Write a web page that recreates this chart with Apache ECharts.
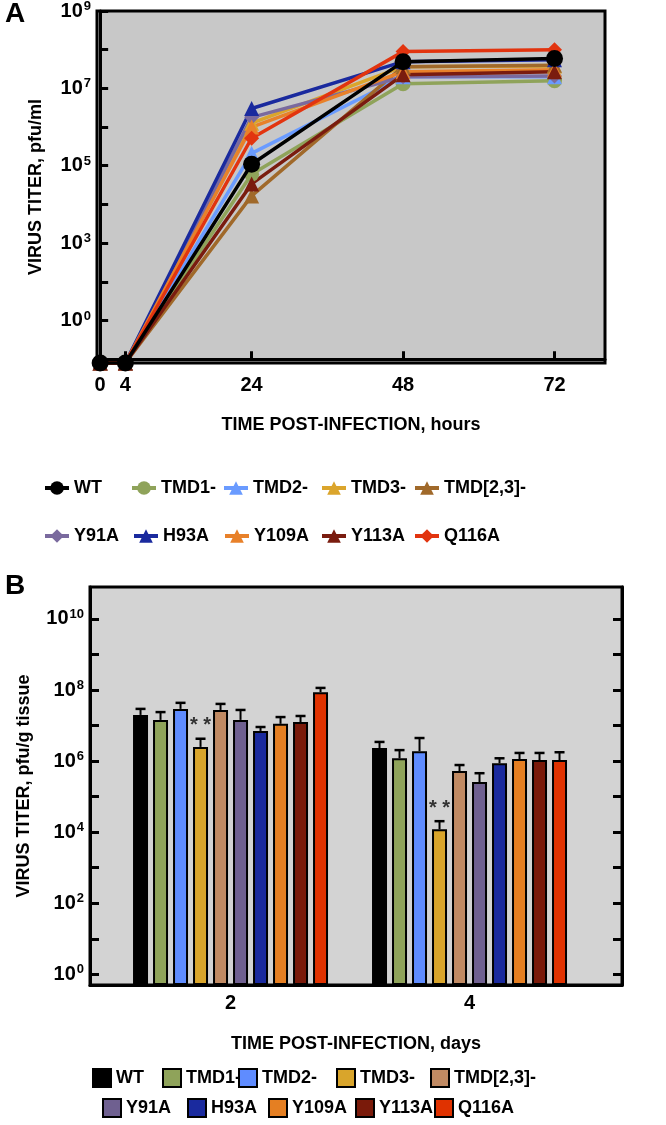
<!DOCTYPE html>
<html><head><meta charset="utf-8">
<script src="https://cdn.jsdelivr.net/npm/echarts@6/dist/echarts.min.js"></script>
<style>html,body{margin:0;padding:0;background:#fff}#c{width:666px;height:1125px}</style>
</head><body><div id="c"></div>
<script>
// ---------- shared ----------
const seriesNames = ['WT', 'TMD1-', 'TMD2-', 'TMD3-', 'TMD[2,3]-', 'Y91A', 'H93A', 'Y109A', 'Y113A', 'Q116A'];

// ---------- Panel A: growth curves (log10 pfu/ml; -0.1 = at axis floor) ----------
const hoursA = [0, 4, 24, 48, 72];
const hourTickLabels = ['0', '4', '24', '48', '72'];
const yTickPosA = [9, 7, 5, 3, 1];
const yTickExpA = ['9', '7', '5', '3', '0'];
const logA_WT    = [-0.1, -0.1, 5.04, 7.69, 7.77];
const logA_TMD1  = [-0.1, -0.1, 4.78, 7.12, 7.20];
const logA_TMD2  = [-0.1, -0.1, 5.32, 7.30, 7.30];
const logA_TMD3  = [-0.1, -0.1, 6.10, 7.56, 7.58];
const logA_TMD23 = [-0.1, -0.1, 4.22, 7.56, 7.60];
const logA_Y91A  = [-0.1, -0.1, 6.25, 7.30, 7.32];
const logA_H93A  = [-0.1, -0.1, 6.48, 7.69, 7.74];
const logA_Y109A = [-0.1, -0.1, 6.00, 7.43, 7.48];
const logA_Y113A = [-0.1, -0.1, 4.53, 7.35, 7.43];
const logA_Q116A = [-0.1, -0.1, 5.71, 7.95, 8.00];
const logA = [logA_WT, logA_TMD1, logA_TMD2, logA_TMD3, logA_TMD23, logA_Y91A, logA_H93A, logA_Y109A, logA_Y113A, logA_Q116A];
const colorsA = ['#000000', '#8fa35a', '#6a9bff', '#dba52c', '#a0692a', '#7a6a9e', '#1a2a9e', '#e8812a', '#7a1c0f', '#e2340f'];
const symbolsA = ['circle', 'circle', 'triangle', 'triangle', 'triangle', 'diamond', 'triangle', 'triangle', 'triangle', 'diamond'];

// ---------- Panel B: organ titers (log10 pfu/g tissue) ----------
const daysB = [2, 4];
const dayTickLabels = ['2', '4'];
const yTickExpB = [0, 2, 4, 6, 8, 10];
const logB_WT    = [7.30, 6.37], errB_WT    = [7.47, 6.54];
const logB_TMD1  = [7.16, 6.08], errB_TMD1  = [7.38, 6.31];
const logB_TMD2  = [7.47, 6.28], errB_TMD2  = [7.64, 6.65];
const logB_TMD3  = [6.40, 4.08], errB_TMD3  = [6.63, 4.31];
const logB_TMD23 = [7.44, 5.72], errB_TMD23 = [7.61, 5.89];
const logB_Y91A  = [7.16, 5.41], errB_Y91A  = [7.44, 5.66];
const logB_H93A  = [6.85, 5.94], errB_H93A  = [6.96, 6.08];
const logB_Y109A = [7.05, 6.06], errB_Y109A = [7.24, 6.23];
const logB_Y113A = [7.10, 6.03], errB_Y113A = [7.27, 6.23];
const logB_Q116A = [7.94, 6.03], errB_Q116A = [8.06, 6.25];
const logB = [logB_WT, logB_TMD1, logB_TMD2, logB_TMD3, logB_TMD23, logB_Y91A, logB_H93A, logB_Y109A, logB_Y113A, logB_Q116A];
const errB = [errB_WT, errB_TMD1, errB_TMD2, errB_TMD3, errB_TMD23, errB_Y91A, errB_H93A, errB_Y109A, errB_Y113A, errB_Q116A];
const sigB = ['**', '**'];
const sigSeriesB = 3;
const colorsB = ['#000000', '#8fa35a', '#5f8cff', '#d9a52b', '#c08a63', '#6f6090', '#1a2a9e', '#e57f22', '#7a1a0a', '#e03200'];

// ---------- styling ----------
const F = '"Liberation Sans", Arial, sans-serif';
const B_MIN = -0.3, B_MAX = 10.9;
const BAR_W = 15, BAR_PITCH = 20;

const rich = {
  b: { fontSize: 20, fontWeight: 'bold', fontFamily: F, color: '#000', lineHeight: 22 },
  s: { fontSize: 13, fontWeight: 'bold', fontFamily: F, color: '#000', verticalAlign: 'top', lineHeight: 13, padding: [0, 0, 0, 1] }
};
const nameStyle = { fontSize: 18, fontWeight: 'bold', fontFamily: F, color: '#000' };

const series = [];
const legends = [];

// Panel A series
seriesNames.forEach((nm, i) => {
  series.push({
    type: 'line', name: nm, xAxisIndex: 0, yAxisIndex: 0,
    data: hoursA.map((h, k) => [h, logA[i][k]]),
    symbol: symbolsA[i], symbolSize: i === 0 ? 17 : 15,
    color: colorsA[i], lineStyle: { width: 3.5, color: colorsA[i] },
    itemStyle: { color: colorsA[i] },
    clip: false, z: i === 0 ? 5 : 3
  });
});

// Panel B bars + error bars
seriesNames.forEach((nm, i) => {
  series.push({
    type: 'bar', name: nm + ' (B)', xAxisIndex: 1, yAxisIndex: 1,
    barWidth: BAR_W, barGap: ((BAR_PITCH - BAR_W) / BAR_W * 100) + '%',
    data: daysB.map((d, k) => [d, logB[i][k] - B_MIN]),
    itemStyle: { color: colorsB[i], borderColor: '#000', borderWidth: 2 }
  });
  const off = (i - (seriesNames.length - 1) / 2) * BAR_PITCH;
  series.push({
    type: 'custom', name: nm + ' err', xAxisIndex: 1, yAxisIndex: 1,
    encode: { x: 0, y: [1, 2] },
    data: daysB.map((d, k) => [d, logB[i][k] - B_MIN, errB[i][k] - B_MIN, k]),
    z: 4,
    renderItem: function (params, api) {
      const p1 = api.coord([api.value(0), api.value(1)]);
      const p2 = api.coord([api.value(0), api.value(2)]);
      const x = p1[0] + off;
      const children = [
        { type: 'line', shape: { x1: x, y1: p1[1], x2: x, y2: p2[1] }, style: { stroke: '#000', lineWidth: 2 } },
        { type: 'line', shape: { x1: x - 5, y1: p2[1], x2: x + 5, y2: p2[1] }, style: { stroke: '#000', lineWidth: 2.5 } }
      ];
      if (i === sigSeriesB) {
        children.push({ type: 'text', x: x, y: p2[1] - 13,
          style: { text: sigB[api.value(3)].split('').join(' '), fill: '#333', fontSize: 20, fontWeight: 'bold', fontFamily: F, align: 'center', verticalAlign: 'middle' } });
      }
      return { type: 'group', children: children };
    }
  });
});

// Legends
const legA_left = [[43, 130, 222, 320, 413], [43, 132, 223, 320, 413]];
const legA_top = [479, 527];
const legB_left = [[92, 162, 238, 336, 430], [102, 187, 268, 355, 434]];
const legB_top = [1068, 1098];
seriesNames.forEach((nm, i) => {
  const r = i < 5 ? 0 : 1, c = i % 5;
  legends.push({
    data: [nm], left: legA_left[r][c], top: legA_top[r], padding: 0,
    itemWidth: 24, itemHeight: 17, selectedMode: false,
    lineStyle: { width: 4 },
    textStyle: { fontSize: 18, fontWeight: 'bold', fontFamily: F, color: '#000' }
  });
  legends.push({
    data: [{ name: nm + ' (B)', icon: 'rect' }], left: legB_left[r][c], top: legB_top[r], padding: 0,
    itemWidth: 18, itemHeight: 18, selectedMode: false,
    formatter: () => nm,
    itemStyle: { borderColor: '#000', borderWidth: 2 },
    textStyle: { fontSize: 18, fontWeight: 'bold', fontFamily: F, color: '#000' }
  });
});

const option = {
  animation: false,
  backgroundColor: '#fff',
  graphic: [
    { type: 'text', left: 5, top: 0, style: { text: 'A', fontSize: 28, fontWeight: 'bold', fontFamily: F, fill: '#000' } },
    { type: 'text', left: 5, top: 572, style: { text: 'B', fontSize: 28, fontWeight: 'bold', fontFamily: F, fill: '#000' } }
  ],
  grid: [
    { left: 97, top: 9, width: 508, height: 354, show: true, backgroundColor: '#c8c8c8', borderColor: '#000', borderWidth: 3 },
    { left: 90, top: 587, width: 532, height: 398, show: true, backgroundColor: '#d3d3d3', borderColor: '#000', borderWidth: 3 }
  ],
  xAxis: [
    { type: 'value', gridIndex: 0, min: -0.5, max: 80,
      axisLine: { show: true, lineStyle: { color: '#000', width: 3 } },
      axisTick: { show: true, inside: true, length: 8, lineStyle: { color: '#000', width: 3 }, customValues: hoursA },
      axisLabel: { customValues: hoursA, margin: 12, fontSize: 20, fontWeight: 'bold', fontFamily: F, color: '#000',
        formatter: v => hourTickLabels[hoursA.indexOf(v)] },
      splitLine: { show: false },
      name: 'TIME POST-INFECTION, hours', nameLocation: 'middle', nameGap: 53, nameTextStyle: nameStyle },
    { type: 'value', gridIndex: 1, min: 0.824, max: 5.276,
      axisLine: { show: true, lineStyle: { color: '#000', width: 3 } },
      axisTick: { show: false },
      axisLabel: { customValues: daysB, margin: 8, fontSize: 20, fontWeight: 'bold', fontFamily: F, color: '#000',
        formatter: v => dayTickLabels[daysB.indexOf(v)] },
      splitLine: { show: false },
      name: 'TIME POST-INFECTION, days', nameLocation: 'middle', nameGap: 50, nameTextStyle: nameStyle }
  ],
  yAxis: [
    { type: 'value', gridIndex: 0, min: -0.1, max: 9,
      axisLine: { show: true, lineStyle: { color: '#000', width: 3 } },
      axisTick: { show: true, inside: true, length: 8, lineStyle: { color: '#000', width: 3 }, customValues: [1, 2, 3, 4, 5, 6, 7, 8, 9] },
      axisLabel: { customValues: yTickPosA, margin: 6, rich: rich,
        formatter: v => '{b|10}{s|' + yTickExpA[yTickPosA.indexOf(Math.round(v))] + '}' },
      splitLine: { show: false },
      name: 'VIRUS TITER, pfu/ml', nameLocation: 'middle', nameGap: 52, nameRotate: 90, nameTextStyle: nameStyle },
    { type: 'value', gridIndex: 1, min: 0, max: B_MAX - B_MIN,
      axisLine: { show: true, lineStyle: { color: '#000', width: 3 } },
      axisTick: { show: true, inside: true, length: 9, lineStyle: { color: '#000', width: 3 },
        customValues: [0, 1, 2, 3, 4, 5, 6, 7, 8, 9, 10].map(e => e - B_MIN) },
      axisLabel: { customValues: yTickExpB.map(e => e - B_MIN), margin: 6, rich: rich,
        formatter: v => '{b|10}{s|' + Math.round(v + B_MIN) + '}' },
      splitLine: { show: false },
      name: 'VIRUS TITER, pfu/g tissue', nameLocation: 'middle', nameGap: 57, nameRotate: 90, nameTextStyle: nameStyle },
    { type: 'value', gridIndex: 1, position: 'right', min: 0, max: B_MAX - B_MIN,
      axisLine: { show: true, lineStyle: { color: '#000', width: 3 } },
      axisTick: { show: true, inside: true, length: 9, lineStyle: { color: '#000', width: 3 },
        customValues: [0, 1, 2, 3, 4, 5, 6, 7, 8, 9, 10].map(e => e - B_MIN) },
      axisLabel: { show: false }, splitLine: { show: false } }
  ],
  legend: legends,
  series: series
};
const chart = echarts.init(document.getElementById('c'), null, { renderer: 'canvas' });
chart.setOption(option);
</script></body></html>
